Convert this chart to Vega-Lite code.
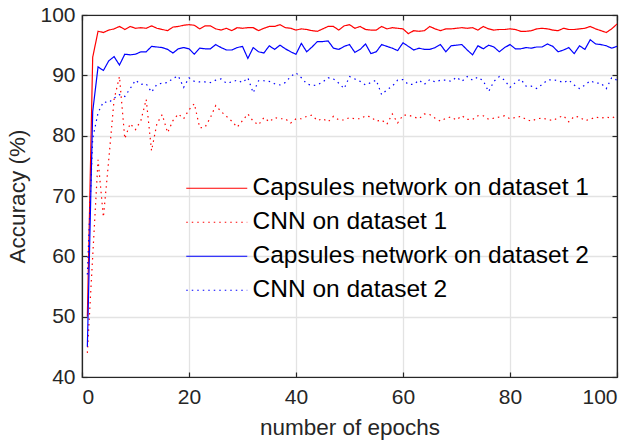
{
  "$schema": "https://vega.github.io/schema/vega-lite/v6.json",
  "autosize": {"type": "none"},
  "width": 535,
  "height": 362,
  "padding": {"left": 82, "top": 15, "right": 18, "bottom": 64},
  "background": "white",
  "config": {
    "font": "Liberation Sans",
    "view": {"stroke": "#262626", "strokeWidth": 1.2},
    "axis": {
      "labelFont": "Liberation Sans",
      "titleFont": "Liberation Sans",
      "labelColor": "#262626",
      "titleColor": "#262626",
      "labelFontSize": 21,
      "titleFontSize": 22.5,
      "titleFontWeight": "normal",
      "domainColor": "#262626",
      "domainWidth": 1.2,
      "tickColor": "#262626",
      "tickWidth": 1.2,
      "gridColor": "#e3e3e3",
      "gridWidth": 1.3
    },
    "legend": {
      "orient": "none", "legendX": 122.5, "legendY": 161, "title": null,
      "symbolType": "M-6.1,0H6.1", "symbolSize": 100, "symbolStrokeWidth": 1.2,
      "labelFontSize": 24.5, "labelFont": "Liberation Sans", "labelColor": "#000000",
      "labelOffset": 23.5, "rowPadding": 9, "padding": 0, "labelLimit": 1000
    }
  },
  "data": {
    "values": [
      {"epoch":1,"c1":50,"n1":44,"c2":45,"n2":57},
      {"epoch":2,"c1":93,"n1":60,"c2":84,"n2":79.5},
      {"epoch":3,"c1":97.3,"n1":76,"c2":91.4,"n2":83.8},
      {"epoch":4,"c1":97.1,"n1":66.5,"c2":90.8,"n2":85.6},
      {"epoch":5,"c1":97.5,"n1":76,"c2":92.4,"n2":85.5},
      {"epoch":6,"c1":97.7,"n1":86,"c2":93.1,"n2":86.2},
      {"epoch":7,"c1":98.1,"n1":89.8,"c2":91.7,"n2":86.8},
      {"epoch":8,"c1":97.6,"n1":79.5,"c2":93.5,"n2":86.5},
      {"epoch":9,"c1":98.1,"n1":82,"c2":93.4,"n2":87.8},
      {"epoch":10,"c1":97.8,"n1":81,"c2":93.5,"n2":89.2},
      {"epoch":11,"c1":97.9,"n1":82.5,"c2":93.9,"n2":88.5},
      {"epoch":12,"c1":97.8,"n1":86,"c2":93.9,"n2":88.6},
      {"epoch":13,"c1":98.2,"n1":77.5,"c2":94.8,"n2":87.2},
      {"epoch":14,"c1":97.8,"n1":82,"c2":94.7,"n2":88.5},
      {"epoch":15,"c1":97.6,"n1":83.5,"c2":94.6,"n2":88.7},
      {"epoch":16,"c1":97.4,"n1":80.5,"c2":94.3,"n2":88.8},
      {"epoch":17,"c1":98.0,"n1":82.5,"c2":93.7,"n2":89.5},
      {"epoch":18,"c1":98.1,"n1":83.6,"c2":94.4,"n2":89.9},
      {"epoch":19,"c1":98.3,"n1":82.8,"c2":94.6,"n2":88.0},
      {"epoch":20,"c1":98.4,"n1":84.3,"c2":94.4,"n2":89.6},
      {"epoch":21,"c1":98.3,"n1":85.3,"c2":93.5,"n2":89.0},
      {"epoch":22,"c1":97.7,"n1":81.3,"c2":94.5,"n2":88.9},
      {"epoch":23,"c1":98.2,"n1":81.4,"c2":94.4,"n2":88.9},
      {"epoch":24,"c1":98.2,"n1":83.0,"c2":94.4,"n2":88.8},
      {"epoch":25,"c1":97.7,"n1":85.0,"c2":95.1,"n2":89.2},
      {"epoch":26,"c1":97.5,"n1":84.0,"c2":94.6,"n2":89.4},
      {"epoch":27,"c1":97.8,"n1":83.2,"c2":94.2,"n2":88.7},
      {"epoch":28,"c1":97.4,"n1":82.4,"c2":94.2,"n2":88.9},
      {"epoch":29,"c1":97.9,"n1":81.4,"c2":94.6,"n2":89.2},
      {"epoch":30,"c1":97.8,"n1":82.5,"c2":94.8,"n2":88.8},
      {"epoch":31,"c1":97.9,"n1":83.6,"c2":92.8,"n2":89.6},
      {"epoch":32,"c1":97.9,"n1":82.4,"c2":94.6,"n2":87.1},
      {"epoch":33,"c1":97.4,"n1":81.8,"c2":93.9,"n2":89.1},
      {"epoch":34,"c1":97.8,"n1":83.0,"c2":93.7,"n2":89.1},
      {"epoch":35,"c1":98.1,"n1":82.3,"c2":94.9,"n2":89.0},
      {"epoch":36,"c1":98.1,"n1":83.0,"c2":94.3,"n2":88.6},
      {"epoch":37,"c1":98.4,"n1":82.8,"c2":95.0,"n2":88.4},
      {"epoch":38,"c1":97.9,"n1":82.8,"c2":94.4,"n2":88.8},
      {"epoch":39,"c1":97.8,"n1":82.1,"c2":93.9,"n2":89.8},
      {"epoch":40,"c1":97.5,"n1":82.8,"c2":93.5,"n2":90.4},
      {"epoch":41,"c1":97.7,"n1":82.8,"c2":95.3,"n2":89.6},
      {"epoch":42,"c1":97.6,"n1":83.2,"c2":93.9,"n2":88.6},
      {"epoch":43,"c1":97.4,"n1":83.4,"c2":94.7,"n2":88.3},
      {"epoch":44,"c1":97.3,"n1":82.5,"c2":95.6,"n2":88.4},
      {"epoch":45,"c1":97.7,"n1":82.8,"c2":95.6,"n2":88.9},
      {"epoch":46,"c1":98.1,"n1":82.3,"c2":95.7,"n2":89.6},
      {"epoch":47,"c1":98.1,"n1":83.2,"c2":94.5,"n2":89.4},
      {"epoch":48,"c1":97.5,"n1":82.6,"c2":94.3,"n2":88.7},
      {"epoch":49,"c1":98.2,"n1":82.6,"c2":94.8,"n2":87.8},
      {"epoch":50,"c1":98.4,"n1":83.0,"c2":95.1,"n2":89.8},
      {"epoch":51,"c1":97.8,"n1":82.8,"c2":93.8,"n2":89.4},
      {"epoch":52,"c1":98.1,"n1":82.8,"c2":94.3,"n2":89.0},
      {"epoch":53,"c1":97.6,"n1":83.3,"c2":95.2,"n2":88.4},
      {"epoch":54,"c1":97.5,"n1":83.1,"c2":93.6,"n2":88.8},
      {"epoch":55,"c1":97.5,"n1":82.4,"c2":93.9,"n2":89.2},
      {"epoch":56,"c1":98.1,"n1":82.6,"c2":95.1,"n2":86.8},
      {"epoch":57,"c1":97.7,"n1":81.9,"c2":94.8,"n2":87.6},
      {"epoch":58,"c1":97.9,"n1":83.6,"c2":94.5,"n2":88.2},
      {"epoch":59,"c1":97.8,"n1":82.1,"c2":94.1,"n2":89.2},
      {"epoch":60,"c1":97.7,"n1":83.4,"c2":95.4,"n2":89.3},
      {"epoch":61,"c1":96.9,"n1":83.4,"c2":94.8,"n2":88.5},
      {"epoch":62,"c1":97.4,"n1":83.1,"c2":94.2,"n2":88.5},
      {"epoch":63,"c1":97.3,"n1":82.8,"c2":94.5,"n2":89.2},
      {"epoch":64,"c1":97.4,"n1":83.6,"c2":94.3,"n2":88.5},
      {"epoch":65,"c1":98.1,"n1":83.5,"c2":94.3,"n2":89.3},
      {"epoch":66,"c1":97.7,"n1":82.9,"c2":94.6,"n2":88.9},
      {"epoch":67,"c1":97.4,"n1":82.4,"c2":95.1,"n2":89.2},
      {"epoch":68,"c1":97.7,"n1":82.9,"c2":93.9,"n2":89.2},
      {"epoch":69,"c1":97.7,"n1":83.1,"c2":94.9,"n2":89.0},
      {"epoch":70,"c1":97.8,"n1":82.6,"c2":95.0,"n2":89.7},
      {"epoch":71,"c1":97.9,"n1":83.3,"c2":95.1,"n2":89.0},
      {"epoch":72,"c1":97.8,"n1":82.7,"c2":94.2,"n2":89.8},
      {"epoch":73,"c1":97.9,"n1":82.7,"c2":93.4,"n2":89.2},
      {"epoch":74,"c1":97.5,"n1":83.3,"c2":94.9,"n2":89.7},
      {"epoch":75,"c1":98.1,"n1":83.3,"c2":94.4,"n2":89.1},
      {"epoch":76,"c1":97.7,"n1":82.7,"c2":95.0,"n2":87.3},
      {"epoch":77,"c1":97.5,"n1":82.9,"c2":94.7,"n2":89.0},
      {"epoch":78,"c1":97.6,"n1":83.1,"c2":93.9,"n2":89.8},
      {"epoch":79,"c1":97.6,"n1":83.3,"c2":94.6,"n2":89.2},
      {"epoch":80,"c1":97.7,"n1":82.8,"c2":95.1,"n2":88.0},
      {"epoch":81,"c1":97.6,"n1":83.0,"c2":94.4,"n2":88.8},
      {"epoch":82,"c1":97.3,"n1":83.2,"c2":94.4,"n2":89.4},
      {"epoch":83,"c1":97.3,"n1":82.7,"c2":94.6,"n2":88.2},
      {"epoch":84,"c1":97.4,"n1":82.4,"c2":94.5,"n2":88.2},
      {"epoch":85,"c1":97.7,"n1":82.8,"c2":94.7,"n2":87.8},
      {"epoch":86,"c1":97.8,"n1":82.9,"c2":94.7,"n2":88.5},
      {"epoch":87,"c1":97.7,"n1":82.7,"c2":95.2,"n2":89.2},
      {"epoch":88,"c1":97.5,"n1":82.5,"c2":94.8,"n2":89.3},
      {"epoch":89,"c1":97.4,"n1":83.0,"c2":93.9,"n2":89.1},
      {"epoch":90,"c1":97.8,"n1":83.3,"c2":94.2,"n2":88.8},
      {"epoch":91,"c1":97.6,"n1":82.3,"c2":94.6,"n2":89.2},
      {"epoch":92,"c1":97.6,"n1":83.2,"c2":93.6,"n2":88.4},
      {"epoch":93,"c1":97.7,"n1":83.1,"c2":94.9,"n2":87.8},
      {"epoch":94,"c1":97.8,"n1":82.5,"c2":94.3,"n2":88.4},
      {"epoch":95,"c1":98.1,"n1":82.7,"c2":95.9,"n2":89.1},
      {"epoch":96,"c1":97.7,"n1":83.1,"c2":95.2,"n2":88.7},
      {"epoch":97,"c1":97.4,"n1":82.9,"c2":95.1,"n2":88.7},
      {"epoch":98,"c1":97.1,"n1":83.1,"c2":94.9,"n2":87.8},
      {"epoch":99,"c1":97.7,"n1":82.9,"c2":94.5,"n2":89.6},
      {"epoch":100,"c1":98.5,"n1":83.3,"c2":94.8,"n2":89.2}
    ]
  },
  "transform": [{"fold": ["c1", "n1", "c2", "n2"], "as": ["series", "acc"]}],
  "layer": [
    {
      "mark": {"type": "line", "strokeWidth": 1.2, "clip": true},
      "encoding": {
        "x": {
          "field": "epoch", "type": "quantitative",
          "scale": {"domain": [0, 100], "nice": false},
          "axis": {"values": [0, 20, 40, 60, 80, 100], "title": "number of epochs", "tickSize": -5, "labelPadding": 14, "titlePadding": 9, "grid": true}
        },
        "y": {
          "field": "acc", "type": "quantitative",
          "scale": {"domain": [40, 100], "nice": false, "zero": false},
          "axis": {"values": [40, 50, 60, 70, 80, 90, 100], "title": "Accuracy (%)", "tickSize": -5, "labelPadding": 12, "titlePadding": 10, "grid": true}
        },
        "color": {
          "field": "series", "type": "nominal",
          "scale": {"domain": ["c1", "n1", "c2", "n2"], "range": ["#ff0000", "#ff0000", "#0000ff", "#0000ff"]},
          "legend": {
            "labelExpr": "datum.value == 'c1' ? 'Capsules network on dataset 1' : datum.value == 'n1' ? 'CNN on dataset 1' : datum.value == 'c2' ? 'Capsules network on dataset 2' : 'CNN on dataset 2'",
            "encode": {"symbols": {"update": {"stroke": {"signal": "datum.value == 'c1' || datum.value == 'n1' ? '#ff0000' : '#0000ff'"}}}}
          }
        },
        "strokeDash": {
          "field": "series", "type": "nominal",
          "scale": {"domain": ["c1", "n1", "c2", "n2"], "range": [[1, 0], [1.5, 4], [1, 0], [1.5, 4]]},
          "legend": {
            "labelExpr": "datum.value == 'c1' ? 'Capsules network on dataset 1' : datum.value == 'n1' ? 'CNN on dataset 1' : datum.value == 'c2' ? 'Capsules network on dataset 2' : 'CNN on dataset 2'",
            "encode": {"symbols": {"update": {"stroke": {"signal": "datum.value == 'c1' || datum.value == 'n1' ? '#ff0000' : '#0000ff'"}}}}
          }
        }
      }
    },
    {
      "mark": {"type": "point", "opacity": 0},
      "encoding": {
        "x": {"field": "epoch", "type": "quantitative", "axis": {"orient": "top", "values": [0, 20, 40, 60, 80, 100], "labels": false, "title": null, "tickSize": -5, "grid": false}},
        "y": {"field": "acc", "type": "quantitative", "axis": {"orient": "right", "values": [40, 50, 60, 70, 80, 90, 100], "labels": false, "title": null, "tickSize": -5, "grid": false}}
      }
    }
  ],
  "resolve": {"axis": {"x": "independent", "y": "independent"}}
}
